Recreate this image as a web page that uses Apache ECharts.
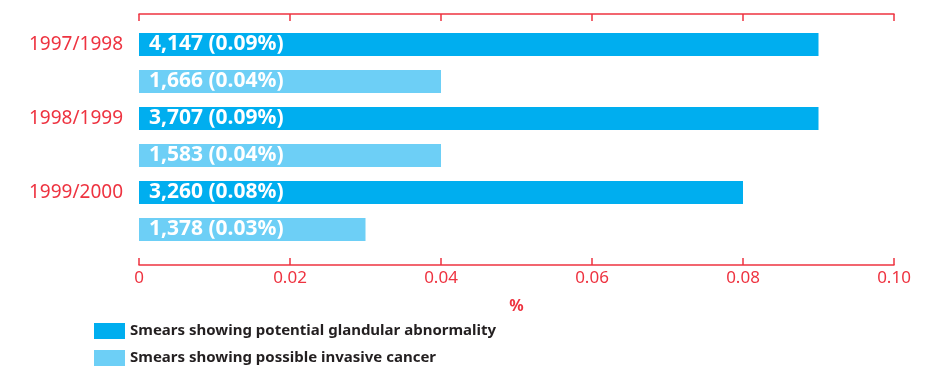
<!DOCTYPE html>
<html>
<head>
<meta charset="utf-8">
<script src="https://cdn.jsdelivr.net/npm/echarts@6/dist/echarts.min.js"></script>
<style>
  html, body { margin: 0; padding: 0; background: #fff; }
  #chart { width: 926px; height: 368px; }
</style>
</head>
<body>
<div id="chart"></div>
<script>
// Rows: each year has a glandular row followed by an invasive-cancer row
const rowLabels = ['1997/1998', '', '1998/1999', '', '1999/2000', ''];
const seriesNames = [
  'Smears showing potential glandular abnormality',
  'Smears showing possible invasive cancer'
];
// Percentages of smears
const glandularPct = [0.09, 0.09, 0.08];
const invasivePct = [0.04, 0.04, 0.03];
// Number of smears
const glandularCount = [4147, 3707, 3260];
const invasiveCount = [1666, 1583, 1378];
const xTicks = [0, 0.02, 0.04, 0.06, 0.08, 0.10];

const RED = '#ee3340';
const DARK = '#00aeef';
const LIGHT = '#6dcff6';
const FONT = 'Noto Sans';

// Spread each series onto its own rows; the other rows stay empty
function spread(pct, counts, offset) {
  const out = rowLabels.map(() => '-');
  pct.forEach((v, i) => {
    out[i * 2 + offset] = { value: v, count: counts[i] };
  });
  return out;
}

function fmtCount(n) {
  return n.toLocaleString('en-US');
}

const barLabel = {
  show: true,
  position: 'insideLeft',
  distance: 10,
  color: '#fff',
  fontFamily: FONT,
  fontWeight: 'bold',
  fontSize: 21,
  formatter: p => fmtCount(p.data.count) + ' (' + p.data.value.toFixed(2) + '%)'
};

const axisCommon = {
  type: 'value',
  min: xTicks[0],
  max: xTicks[xTicks.length - 1],
  interval: 0.02,
  splitLine: { show: false },
  axisLine: { show: true, lineStyle: { color: RED, width: 1.5 } },
  axisTick: { show: true, inside: true, length: 7, lineStyle: { color: RED, width: 1.5 } }
};

// One legend block per series, stacked vertically
function legendRow(name, top) {
  return {
    orient: 'vertical',
    left: 94,
    top: top,
    padding: 0,
    icon: 'rect',
    itemWidth: 31,
    itemHeight: 16,
    itemGap: 5,
    selectedMode: false,
    textStyle: { fontFamily: FONT, fontWeight: 'bold', fontSize: 15, color: '#231f20' },
    data: [name]
  };
}

const chart = echarts.init(document.getElementById('chart'), null, { renderer: 'canvas' });
chart.setOption({
  animation: false,
  grid: { left: 139, right: 32, top: 26, height: 222 },
  legend: [legendRow(seriesNames[0], 323), legendRow(seriesNames[1], 350)],
  xAxis: [
    Object.assign({}, axisCommon, {
      position: 'bottom',
      offset: 17,
      name: '%',
      nameLocation: 'middle',
      nameGap: 33,
      nameTextStyle: { color: RED, fontFamily: FONT, fontWeight: 'bold', fontSize: 16 },
      axisLabel: {
        color: RED,
        fontFamily: FONT,
        fontSize: 17,
        margin: 5,
        formatter: v => (v === 0 ? '0' : v.toFixed(2))
      }
    }),
    Object.assign({}, axisCommon, {
      position: 'top',
      offset: 12,
      axisLabel: { show: false }
    })
  ],
  yAxis: {
    type: 'category',
    inverse: true,
    data: rowLabels,
    axisLine: { show: false },
    axisTick: { show: false },
    axisLabel: { color: RED, fontFamily: FONT, fontSize: 19, margin: 16 }
  },
  series: [
    {
      name: seriesNames[0],
      type: 'bar',
      barWidth: 23,
      barGap: '-100%',
      itemStyle: { color: DARK },
      label: barLabel,
      data: spread(glandularPct, glandularCount, 0)
    },
    {
      name: seriesNames[1],
      type: 'bar',
      barWidth: 23,
      barGap: '-100%',
      itemStyle: { color: LIGHT },
      label: barLabel,
      data: spread(invasivePct, invasiveCount, 1)
    }
  ]
});
</script>
</body>
</html>
